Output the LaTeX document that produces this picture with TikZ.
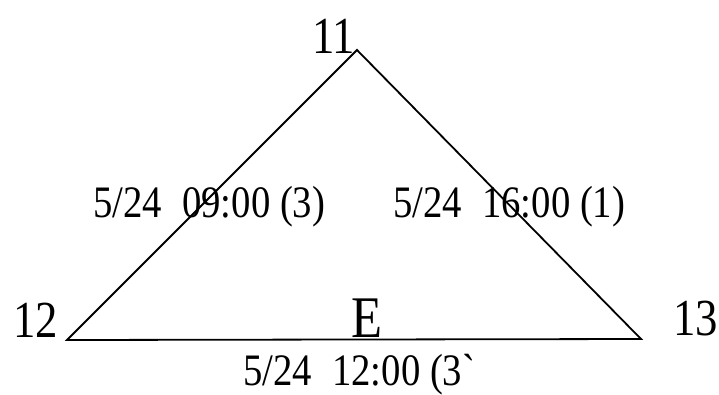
\documentclass[tikz,border=0pt]{standalone}
\usepackage{fontspec}
\newfontfamily\condserif[FakeStretch=0.86]{Liberation Serif}
\begin{document}
\begin{tikzpicture}[x=1pt,y=-1pt,
  edge/.style={line width=1.8pt, line join=miter},
  elabel/.style={inner sep=0pt, anchor=base west, font=\condserif\fontsize{45}{45}\selectfont},
  vlabel/.style={inner sep=0pt, anchor=base west, font=\condserif\fontsize{52}{52}\selectfont},
  bigE/.style={inner sep=0pt, anchor=base west, font=\condserif\fontsize{59}{59}\selectfont}]
\useasboundingbox[fill=white] (0,0) rectangle (719,394);
\coordinate (v11) at (357,50);
\coordinate (v12) at (67,340);
\coordinate (v13) at (641,339);
\draw[edge] (v12) -- (v11) -- (v13) -- cycle;
\node[vlabel] (n11) at (312,53) {11};
\node[vlabel] (n12) at (13,337) {12};
\node[vlabel] (n13) at (673,335) {13};
\node[bigE] (nE) at (351,337) {E};
\node[elabel] (l1) at (93,217) {5/24\hspace{0.45em}09:00 (3)};
\node[elabel] (l2) at (393,217) {5/24\hspace{0.45em}16:00 (1)};
\node[elabel] (l3) at (243,385) {5/24\hspace{0.45em}12:00 (3\textasciigrave};
\end{tikzpicture}
\end{document}
